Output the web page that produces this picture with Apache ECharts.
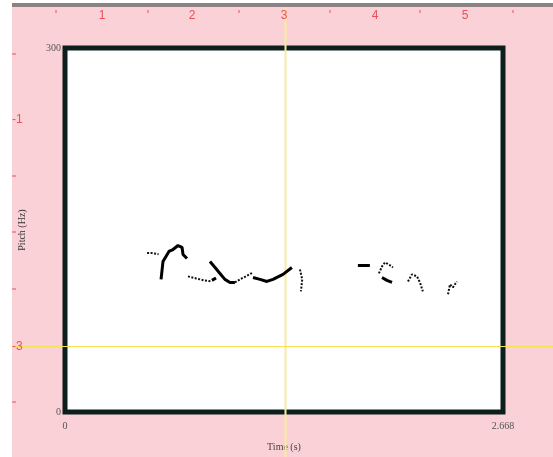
<!DOCTYPE html>
<html><head><meta charset="utf-8">
<script src="https://cdn.jsdelivr.net/npm/echarts@6/dist/echarts.min.js"></script>
<style>html,body{margin:0;padding:0;background:#fff}#c{width:553px;height:457px}</style>
</head><body><div id="c"></div>
<script>
// Axis ranges and labels
const timeMin = 0, timeMax = 2.668;
const pitchMin = 0, pitchMax = 300;
const xTitle = 'Time (s)';
const yTitle = 'Pitch (Hz)';
const topRulerLabels = ['1', '2', '3', '4', '5'];
const leftRulerLabels = ['-1', '-3'];

// Pitch contour: dotted (weak) parts, null = break
const dottedTime  = [0.50, 0.53, 0.57, null, 0.749, 0.798, 0.847, 0.895, null, 1.035, 1.066, 1.102, 1.145, null, 1.431, 1.445, 1.437, null, 1.912, 1.931, 1.949, 1.973, 1.998, null, 2.089, 2.113, 2.144, 2.162, 2.180, null, 2.333, 2.345, 2.363, 2.387];
const dottedPitch = [131, 131, 130, null, 111.8, 110.1, 108.5, 107.6, null, 106.8, 109.3, 111.8, 115.0, null, 117.5, 109.3, 99.4, null, 114.2, 120.0, 123.3, 121.6, 119.1, null, 107.6, 113.4, 111.8, 106.8, 99.4, null, 97.0, 105.2, 102.7, 107.6];

// Pitch contour: solid (strong) parts, null = break
const solidTime  = [0.585, 0.597, 0.633, 0.658, 0.688, 0.713, 0.719, 0.743, null, 0.883, 0.914, 0.944, 0.974, 1.005, 1.035, null, 0.895, 0.92, null, 1.145, 1.188, 1.230, 1.267, 1.328, 1.382, null, 1.784, 1.821, 1.857, null, 1.931, 1.961, 1.992];
const solidPitch = [109.3, 124.1, 132.3, 133.9, 137.2, 135.6, 129.8, 126.5, null, 124.1, 119.1, 114.2, 109.3, 106.8, 106.8, null, 108.5, 110.5, null, 110.9, 109.3, 107.6, 109.3, 113.4, 119.1, null, 120.8, 120.8, 120.8, null, 110.9, 108.5, 106.8];

function pairs(t, f) { return t.map((v, i) => v === null ? [null, null] : [v, f[i]]); }

const chart = echarts.init(document.getElementById('c'), null, {renderer: 'canvas'});
const red = '#e8505a';
const graphics = [
  {type: 'rect', shape: {x: 0, y: 0, width: 12, height: 457}, style: {fill: '#ffffff'}, z: 0, silent: true},
  {type: 'rect', shape: {x: 0, y: 0, width: 553, height: 3}, style: {fill: '#ffffff'}, z: 0, silent: true},
  {type: 'rect', shape: {x: 12, y: 3, width: 541, height: 4}, style: {fill: '#8c8484'}, z: 0, silent: true},
  // crosshair
  {type: 'line', shape: {x1: 285.5, y1: 7, x2: 285.5, y2: 457}, style: {stroke: '#f8eca0', lineWidth: 2}, z: 1, silent: true},
  {type: 'line', shape: {x1: 12, y1: 346.5, x2: 553, y2: 346.5}, style: {stroke: '#f5e050', lineWidth: 1}, z: 1, silent: true}
];
// top ruler
const topMajor = [102, 192, 284, 375, 465];
const topMinor = [56, 148, 239, 330, 420, 513];
topMajor.forEach((x, i) => {
  graphics.push({type: 'text', x: x, y: 16, style: {text: topRulerLabels[i], fill: red, font: '12px "Liberation Sans Narrow", "Liberation Sans"', align: 'center', verticalAlign: 'middle'}, z: 2, silent: true});
});
topMinor.forEach(x => {
  graphics.push({type: 'line', shape: {x1: x, y1: 10, x2: x, y2: 13}, style: {stroke: red, lineWidth: 1}, z: 2, silent: true});
});
// left ruler (minor ticks; majors are the labels)
const leftTicks = [54, 176, 232, 289, 402];
leftTicks.forEach(y => {
  graphics.push({type: 'line', shape: {x1: 12, y1: y, x2: 16, y2: y}, style: {stroke: red, lineWidth: 1}, z: 2, silent: true});
});
graphics.push({type: 'text', x: 12, y: 120, style: {text: leftRulerLabels[0], fill: red, font: '12px "Liberation Sans"', align: 'left', verticalAlign: 'middle'}, z: 2, silent: true});
graphics.push({type: 'text', x: 12, y: 347, style: {text: leftRulerLabels[1], fill: red, font: '12px "Liberation Sans"', align: 'left', verticalAlign: 'middle'}, z: 2, silent: true});

const lbl = {color: '#555', fontFamily: 'Liberation Serif', fontSize: 10};
chart.setOption({
  backgroundColor: '#fad1d6',
  animation: false,
  grid: {left: 65, top: 48, right: 50, bottom: 44, show: true, backgroundColor: '#ffffff', borderColor: '#0c1f1c', borderWidth: 5, z: 0},
  xAxis: {
    type: 'value', min: timeMin, max: timeMax, interval: timeMax,
    name: xTitle, nameLocation: 'middle', nameGap: 30,
    nameTextStyle: {color: '#444', fontFamily: 'Liberation Serif', fontSize: 10},
    axisLine: {show: false}, axisTick: {show: false}, splitLine: {show: false},
    axisLabel: Object.assign({margin: 9, showMinLabel: true, showMaxLabel: true, formatter: v => v === 0 ? '0' : String(timeMax)}, lbl)
  },
  yAxis: {
    type: 'value', min: pitchMin, max: pitchMax, interval: pitchMax,
    name: yTitle, nameLocation: 'middle', nameGap: 38,
    nameTextStyle: {color: '#333', fontFamily: 'Liberation Serif', fontSize: 10},
    axisLine: {show: false}, axisTick: {show: false}, splitLine: {show: false},
    axisLabel: Object.assign({margin: 4}, lbl)
  },
  graphic: graphics,
  series: [
    {type: 'line', data: pairs(dottedTime, dottedPitch), showSymbol: false, connectNulls: false,
     lineStyle: {color: '#111', width: 2, type: [2, 1.5]}, z: 3},
    {type: 'line', data: pairs(solidTime, solidPitch), showSymbol: false, connectNulls: false,
     lineStyle: {color: '#000', width: 3}, z: 4}
  ]
});
</script></body></html>
